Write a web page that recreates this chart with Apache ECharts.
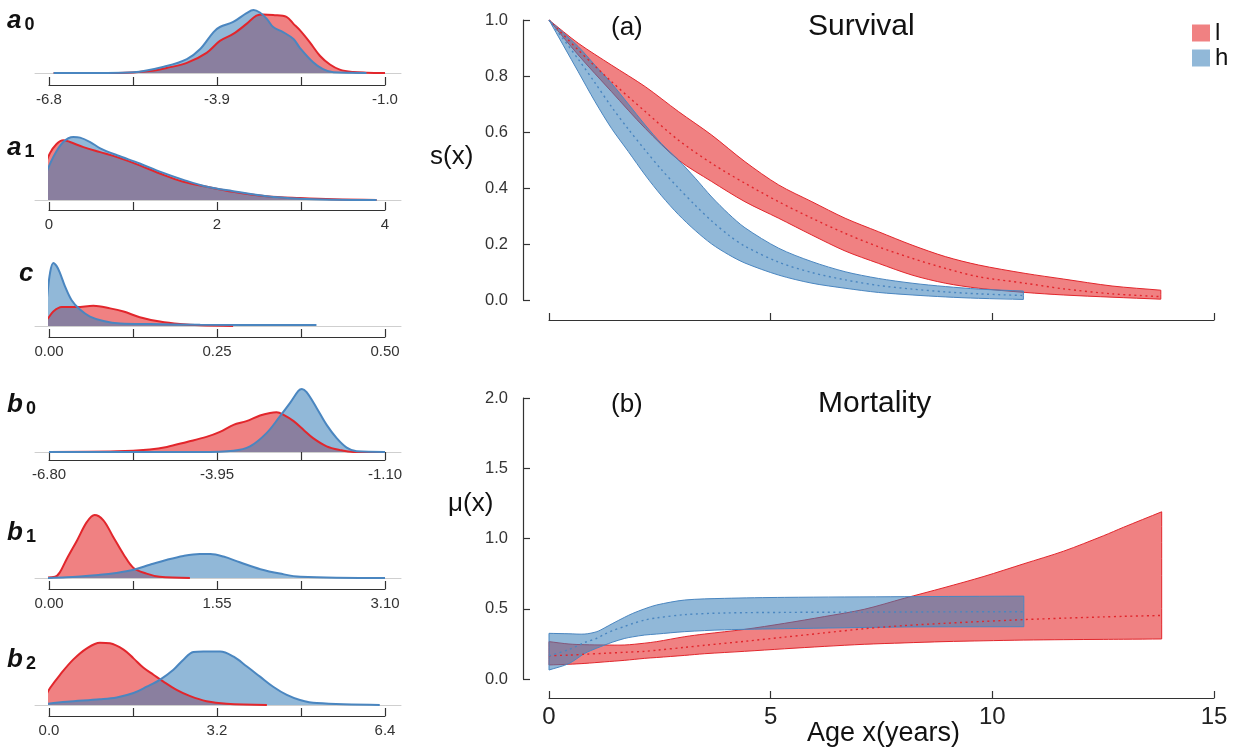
<!DOCTYPE html>
<html><head><meta charset="utf-8">
<script src="https://cdn.jsdelivr.net/npm/echarts@6/dist/echarts.min.js"></script>
<style>html,body{margin:0;padding:0;background:#fff}#c{width:1247px;height:753px}</style>
</head><body><div id="c"></div>
<script>
// ---------- DATA ----------
// posterior densities (x, relative density), l = red, h = blue
const a0Ticks = ['-6.8', '-3.9', '-1.0'];
const a0L = [[-6.72,0],[-5.6,0],[-5.06,0.03],[-4.77,0.08],[-4.42,0.16],[-4.08,0.32],[-3.85,0.51],[-3.62,0.62],[-3.39,0.78],[-3.22,0.91],[-3.10,0.93],[-2.93,0.92],[-2.70,0.89],[-2.58,0.78],[-2.47,0.68],[-2.30,0.49],[-2.12,0.27],[-1.95,0.135],[-1.78,0.054],[-1.55,0.016],[-1.32,0.005],[-1.0,0]];
const a0H = [[-6.72,0],[-5.8,0],[-5.34,0.01],[-4.77,0.11],[-4.42,0.22],[-4.19,0.38],[-3.96,0.65],[-3.85,0.73],[-3.62,0.81],[-3.39,0.95],[-3.27,1.0],[-3.16,0.96],[-3.04,0.86],[-2.93,0.73],[-2.76,0.65],[-2.58,0.54],[-2.47,0.40],[-2.24,0.17],[-2.07,0.06],[-1.89,0.01],[-1.32,0]];

const a1Ticks = ['0', '2', '4'];
const a1L = [[-0.17,0.1],[-0.07,0.47],[0.01,0.74],[0.09,0.89],[0.17,0.95],[0.25,0.92],[0.41,0.84],[0.61,0.76],[0.81,0.68],[1.08,0.55],[1.32,0.42],[1.60,0.29],[1.88,0.21],[2.19,0.13],[2.59,0.06],[2.99,0.03],[3.39,0.01],[3.9,0]];
const a1H = [[-0.17,0.05],[-0.07,0.32],[0.05,0.68],[0.17,0.92],[0.29,1.0],[0.37,0.99],[0.49,0.92],[0.61,0.82],[0.81,0.71],[1.08,0.58],[1.32,0.45],[1.60,0.32],[1.88,0.21],[2.19,0.14],[2.59,0.06],[2.99,0.02],[3.39,0.005],[3.9,0]];

const cTicks = ['0.00', '0.25', '0.50'];
const cL = [[-0.021,0],[-0.0035,0.1],[0.0064,0.23],[0.019,0.30],[0.041,0.30],[0.066,0.32],[0.091,0.28],[0.111,0.23],[0.135,0.14],[0.165,0.07],[0.195,0.03],[0.225,0.01],[0.274,0]];
const cH = [[-0.016,0],[-0.0084,0.1],[-0.0035,0.41],[0.0015,0.84],[0.0064,1.0],[0.0114,0.95],[0.0164,0.84],[0.0238,0.63],[0.0337,0.41],[0.0461,0.26],[0.061,0.15],[0.081,0.08],[0.106,0.04],[0.150,0.03],[0.225,0.02],[0.398,0.016]];

const b0Ticks = ['-6.80', '-3.95', '-1.10'];
const b0L = [[-6.8,0],[-5.65,0.01],[-5.09,0.04],[-4.80,0.08],[-4.46,0.16],[-4.13,0.24],[-3.90,0.32],[-3.67,0.43],[-3.45,0.49],[-3.22,0.58],[-3.05,0.62],[-2.94,0.63],[-2.82,0.59],[-2.65,0.49],[-2.48,0.35],[-2.32,0.22],[-2.09,0.09],[-1.86,0.03],[-1.64,0],[-1.1,0]];
const b0H = [[-6.8,0],[-4.24,0],[-3.67,0.02],[-3.39,0.09],[-3.11,0.30],[-2.88,0.57],[-2.71,0.78],[-2.57,0.97],[-2.51,1.0],[-2.43,0.95],[-2.26,0.70],[-2.09,0.43],[-1.92,0.22],[-1.75,0.07],[-1.58,0.01],[-1.1,0]];

const b1Ticks = ['0.00', '1.55', '3.10'];
const b1L = [[-0.13,0],[0.055,0.02],[0.10,0.09],[0.16,0.29],[0.26,0.60],[0.35,0.89],[0.42,1.0],[0.50,0.92],[0.59,0.66],[0.69,0.37],[0.78,0.16],[0.90,0.07],[1.02,0.02],[1.30,0]];
const b1H = [[-0.13,0],[0.16,0.01],[0.47,0.05],[0.62,0.08],[0.78,0.13],[0.93,0.21],[1.09,0.29],[1.24,0.35],[1.39,0.38],[1.49,0.38],[1.61,0.34],[1.76,0.25],[1.95,0.14],[2.13,0.07],[2.32,0.02],[3.1,0]];

const b2Ticks = ['0.0', '3.2', '6.4'];
const b2L = [[-0.27,0],[-0.14,0.05],[0.02,0.27],[0.21,0.48],[0.46,0.72],[0.72,0.90],[0.97,0.99],[1.16,0.98],[1.42,0.88],[1.61,0.74],[1.80,0.59],[1.99,0.48],[2.18,0.37],[2.43,0.24],[2.69,0.14],[3.0,0.06],[3.38,0.02],[4.15,0]];
const b2H = [[-0.27,0],[0.34,0.05],[0.97,0.09],[1.29,0.12],[1.61,0.19],[1.86,0.29],[2.11,0.40],[2.37,0.56],[2.56,0.72],[2.75,0.84],[2.94,0.85],[3.26,0.85],[3.51,0.77],[3.77,0.61],[4.02,0.45],[4.27,0.29],[4.53,0.16],[4.78,0.08],[5.10,0.03],[6.3,0]];

// survival s(x)
const survX_l  = [0, 0.66, 1.41, 2.17, 2.92, 3.67, 4.42, 5.18, 5.93, 6.68, 7.43, 8.19, 8.94, 9.69, 10.74, 11.6, 12.7, 13.8];
const survHi_l = [1.0, 0.917, 0.839, 0.762, 0.673, 0.589, 0.494, 0.411, 0.351, 0.292, 0.244, 0.196, 0.155, 0.125, 0.095, 0.075, 0.05, 0.035];
const survLo_l = [1.0, 0.875, 0.744, 0.613, 0.50, 0.423, 0.351, 0.292, 0.232, 0.175, 0.131, 0.089, 0.06, 0.042, 0.027, 0.018, 0.01, 0.003];
const survMd_l = [1.0, 0.893, 0.78, 0.673, 0.571, 0.488, 0.417, 0.351, 0.292, 0.238, 0.19, 0.149, 0.113, 0.083, 0.06, 0.04, 0.022, 0.012];

const survX_h  = [0, 0.66, 1.04, 1.41, 1.79, 2.17, 2.54, 2.92, 3.3, 3.67, 4.05, 4.42, 5.18, 5.93, 6.68, 7.43, 8.19, 8.94, 9.69, 10.7];
const survHi_h = [1.0, 0.905, 0.838, 0.774, 0.70, 0.625, 0.558, 0.50, 0.435, 0.368, 0.308, 0.258, 0.185, 0.137, 0.101, 0.077, 0.06, 0.048, 0.039, 0.032];
const survLo_h = [1.0, 0.815, 0.708, 0.613, 0.53, 0.446, 0.372, 0.305, 0.248, 0.20, 0.162, 0.132, 0.089, 0.06, 0.042, 0.027, 0.018, 0.011, 0.006, 0.002];
const survMd_h = [1.0, 0.86, 0.775, 0.69, 0.61, 0.535, 0.465, 0.40, 0.338, 0.282, 0.232, 0.192, 0.135, 0.098, 0.072, 0.052, 0.039, 0.029, 0.022, 0.016];

// mortality mu(x)
const mortX_l  = [0, 0.45, 0.81, 1.26, 1.71, 2.16, 2.43, 3.06, 3.51, 4.41, 5.31, 6.21, 7.11, 8.01, 8.91, 9.81, 10.71, 11.61, 12.51, 12.96, 13.82];
const mortHi_l = [0.266, 0.249, 0.244, 0.242, 0.242, 0.255, 0.266, 0.301, 0.32, 0.353, 0.396, 0.444, 0.496, 0.574, 0.65, 0.73, 0.82, 0.91, 1.02, 1.08, 1.19];
const mortLo_l = [0.1, 0.105, 0.111, 0.122, 0.133, 0.147, 0.153, 0.168, 0.18, 0.197, 0.215, 0.232, 0.247, 0.257, 0.266, 0.272, 0.277, 0.28, 0.282, 0.283, 0.285];
const mortMd_l = [0.166, 0.17, 0.176, 0.183, 0.19, 0.197, 0.205, 0.225, 0.24, 0.268, 0.298, 0.328, 0.358, 0.38, 0.396, 0.41, 0.423, 0.433, 0.442, 0.446, 0.452];

const mortX_h  = [0, 0.45, 0.81, 1.08, 1.26, 1.44, 1.71, 1.89, 2.16, 2.43, 3.06, 3.96, 5.31, 8.01, 10.71];
const mortHi_h = [0.325, 0.322, 0.32, 0.337, 0.365, 0.396, 0.44, 0.467, 0.50, 0.527, 0.562, 0.574, 0.581, 0.586, 0.59];
const mortLo_h = [0.064, 0.11, 0.183, 0.22, 0.242, 0.263, 0.289, 0.30, 0.313, 0.32, 0.337, 0.35, 0.358, 0.37, 0.372];
const mortMd_h = [0.165, 0.21, 0.26, 0.29, 0.32, 0.345, 0.375, 0.395, 0.42, 0.435, 0.458, 0.47, 0.474, 0.477, 0.479];

const ageTicks = [0, 5, 10, 15];
const legendNames = ['l', 'h'];

// ---------- STYLE / LAYOUT ----------
const FONT = "'Liberation Sans', Arial, Helvetica, sans-serif";
const RED = '#e2262c', RED_FILL = 'rgba(228,26,28,0.55)', RED_SOLID = '#f08182';
const BLUE = '#4a86c0', BLUE_FILL = 'rgba(55,126,184,0.55)', BLUE_SOLID = '#91b8d8';
const AX = '#333';

const panels = [
  {v:'a', s:'0', L:a0L, H:a0H, ticks:a0Ticks, base:73,  off:12, lx:7,  ly:7},
  {v:'a', s:'1', L:a1L, H:a1H, ticks:a1Ticks, base:200, off:10, lx:7,  ly:134},
  {v:'c', s:'',  L:cL,  H:cH,  ticks:cTicks,  base:326, off:11, lx:19, ly:261},
  {v:'b', s:'0', L:b0L, H:b0H, ticks:b0Ticks, base:452, off:8,  lx:7,  ly:391},
  {v:'b', s:'1', L:b1L, H:b1H, ticks:b1Ticks, base:578, off:11, lx:7,  ly:519},
  {v:'b', s:'2', L:b2L, H:b2H, ticks:b2Ticks, base:705, off:11, lx:7,  ly:646}
];

const grid = [], xAxis = [], yAxis = [], series = [], title = [];

panels.forEach((p, i) => {
  const min = parseFloat(p.ticks[0]), max = parseFloat(p.ticks[2]);
  const step = (max - min) / 4;
  grid[i] = {left: 49, width: 336, top: p.base - 63, height: 63};
  grid[8 + i] = {left: 35, width: 366, top: p.base - 63, height: 63};
  xAxis[i] = {
    gridIndex: i, type: 'value', min: min, max: max, interval: step, offset: p.off,
    axisLine: {show: true, onZero: false, lineStyle: {color: AX, width: 1.2}},
    axisTick: {show: true, inside: true, length: 8, lineStyle: {color: AX, width: 1.2}},
    axisLabel: {show: true, margin: 7, fontSize: 15, color: '#333', fontFamily: FONT,
      showMinLabel: true, showMaxLabel: true, interval: 0,
      formatter: (v) => { const k = Math.round((v - min) / step); return k % 2 === 0 ? p.ticks[k / 2] : ''; }},
    splitLine: {show: false}
  };
  xAxis[8 + i] = {
    gridIndex: 8 + i, type: 'value', min: 0, max: 1,
    axisLine: {show: true, onZero: false, lineStyle: {color: '#cfcfcf', width: 1}},
    axisTick: {show: false}, axisLabel: {show: false}, splitLine: {show: false}
  };
  yAxis[i] = {gridIndex: i, type: 'value', min: 0, max: 1, show: false};
  yAxis[8 + i] = {gridIndex: 8 + i, type: 'value', min: 0, max: 1, show: false};
  [[p.L, RED, RED_FILL], [p.H, BLUE, BLUE_FILL]].forEach(([d, c, f]) => {
    series.push({
      type: 'line', xAxisIndex: i, yAxisIndex: i, data: d, smooth: 0.35, symbol: 'none',
      clip: false, silent: true,
      lineStyle: {color: c, width: 2}, areaStyle: {color: f, opacity: 1}
    });
  });
  title.push({
    text: '{v|' + p.v + '}' + (p.s ? '{s|' + p.s + '}' : ''),
    left: p.lx, top: p.ly, padding: 0,
    textStyle: {rich: {
      v: {fontSize: 26, fontWeight: 'bold', fontStyle: 'italic', fontFamily: FONT, color: '#111'},
      s: {fontSize: 18, fontFamily: FONT, color: '#111', padding: [9, 0, 0, 3]}
    }}
  });
});

// right panels
grid[6] = {left: 549, width: 665, top: 20, height: 280};
grid[7] = {left: 549, width: 665, top: 398, height: 281};
const rightX = (gi, off, showLab) => ({
  gridIndex: gi, type: 'value', min: ageTicks[0], max: ageTicks[ageTicks.length - 1],
  interval: ageTicks[1] - ageTicks[0], offset: off,
  axisLine: {show: true, onZero: false, lineStyle: {color: AX, width: 1.2}},
  axisTick: {show: true, inside: true, length: 7, lineStyle: {color: AX, width: 1.2}},
  axisLabel: {show: showLab, margin: 7, fontSize: 24, color: '#222', fontFamily: FONT},
  splitLine: {show: false}
});
xAxis[6] = rightX(6, 20, false);
xAxis[7] = rightX(7, 19, true);
const rightY = (gi, max, step) => ({
  gridIndex: gi, type: 'value', min: 0, max: max, interval: step, offset: 26,
  axisLine: {show: true, onZero: false, lineStyle: {color: AX, width: 1.2}},
  axisTick: {show: true, inside: true, length: 7, lineStyle: {color: AX, width: 1.2}},
  axisLabel: {margin: 15, fontSize: 16.5, color: '#333', fontFamily: FONT, formatter: v => v.toFixed(1)},
  splitLine: {show: false}
});
yAxis[6] = rightY(6, 1, 0.2);
yAxis[7] = rightY(7, 2, 0.5);

// credible band: one polygon (upper edge then lower edge reversed) through the axis scales;
// corner points are repeated so the smoothing keeps the band ends square
function band(gi, name, X, lo, hi, md, c, f) {
  series.push({
    type: 'custom', name: name, xAxisIndex: gi, yAxisIndex: gi, silent: true,
    itemStyle: {color: f},
    data: X.map((x, k) => [x, lo[k], hi[k]]),
    encode: {x: 0, y: [1, 2]},
    renderItem: (params, api) => {
      if (params.dataIndex !== 0) return null;
      const up = X.map((x, k) => api.coord([x, hi[k]]));
      const dn = X.map((x, k) => api.coord([x, lo[k]])).reverse();
      const pts = [up[0].slice()].concat(up, [up[up.length - 1].slice(), dn[0].slice()], dn, [dn[dn.length - 1].slice()]);
      return {
        type: 'polygon',
        shape: {points: pts, smooth: 0.3, smoothConstraint: [pts[0].slice(), pts[0].slice()]},
        style: {fill: f, stroke: c, lineWidth: 1}
      };
    }
  });
  series.push({
    type: 'line', name: name + '_md', xAxisIndex: gi, yAxisIndex: gi, smooth: 0.3,
    symbol: 'none', silent: true, data: X.map((x, k) => [x, md[k]]),
    lineStyle: {color: c, width: 1.4, type: [2, 3.5]}
  });
}
band(6, 'l', survX_l, survLo_l, survHi_l, survMd_l, RED, RED_FILL);
band(6, 'h', survX_h, survLo_h, survHi_h, survMd_h, BLUE, BLUE_FILL);
band(7, 'l', mortX_l, mortLo_l, mortHi_l, mortMd_l, RED, RED_FILL);
band(7, 'h', mortX_h, mortLo_h, mortHi_h, mortMd_h, BLUE, BLUE_FILL);

const txt = (text, left, top, size) => ({text, left, top, padding: 0,
  textStyle: {fontSize: size, fontWeight: 'normal', fontFamily: FONT, color: '#111'}});
title.push(txt('(a)', 611, 15, 26));
title.push(txt('Survival', 808, 12, 30));
title.push(txt('(b)', 611, 392, 26));
title.push(txt('Mortality', 818, 389, 30));
title.push(txt('Age x(years)', 807, 720, 27));
title.push(txt('s(x)', 430, 144, 26));
title.push(txt('μ(x)', 448, 491, 26));

const option = {
  animation: false,
  backgroundColor: '#fff',
  title: title,
  legend: {
    orient: 'vertical', left: 1192, top: 21, padding: 0, itemWidth: 18, itemHeight: 17, itemGap: 1,
    selectedMode: false,
    textStyle: {fontSize: 24, fontFamily: FONT, color: '#111'},
    data: [
      {name: legendNames[0], icon: 'rect', itemStyle: {color: RED_SOLID, borderWidth: 0}},
      {name: legendNames[1], icon: 'rect', itemStyle: {color: BLUE_SOLID, borderWidth: 0}}
    ]
  },
  grid: grid,
  xAxis: xAxis,
  yAxis: yAxis,
  series: series
};
const chart = echarts.init(document.getElementById('c'), null, {renderer: 'canvas'});
chart.setOption(option);
</script></body></html>
